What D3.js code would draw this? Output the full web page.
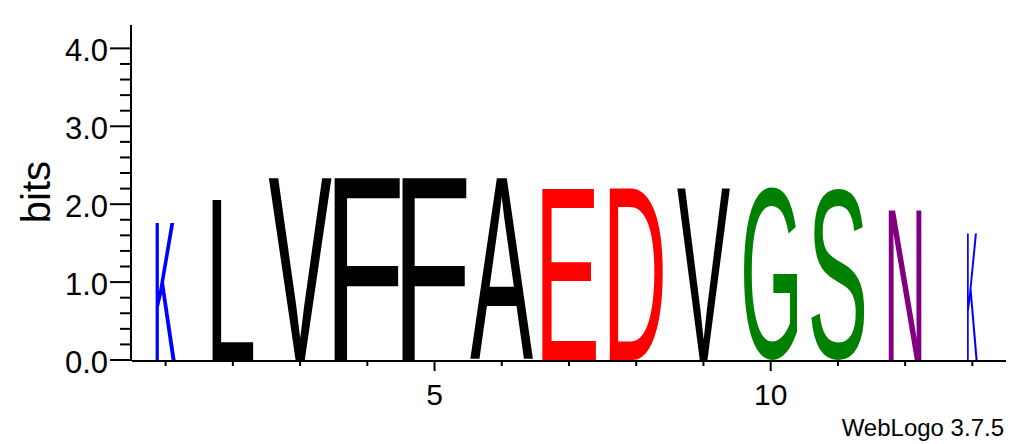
<!DOCTYPE html>
<html>
<head>
<meta charset="utf-8">
<script src="https://cdn.jsdelivr.net/npm/d3@7"></script>
<style>
  html, body { margin: 0; padding: 0; background: #ffffff; }
  svg { display: block; }
  text { font-family: "Liberation Sans", Arial, Helvetica, sans-serif; }
</style>
</head>
<body>
<svg id="chart" width="1030" height="444"></svg>
<script>
// ---- data ----
const positions = [1, 2, 3, 4, 5, 6, 7, 8, 9, 10, 11, 12, 13];
const letters   = ["K", "L", "V", "F", "F", "A", "E", "D", "V", "G", "S", "N", "K"];
const bits      = [1.76, 2.06, 2.34, 2.34, 2.34, 2.34, 2.21, 2.21, 2.21, 2.21, 2.21, 1.92, 1.62];
// fraction of the column occupied (WebLogo scales stack width by non-gap fraction)
const widthFraction = [0.30, 0.61, 0.94, 0.98, 0.96, 0.94, 0.80, 0.79, 0.79, 0.79, 0.79, 0.49, 0.16];
const yMajorTicks = [0, 1, 2, 3, 4];
const yTickLabels = ["0.0", "1.0", "2.0", "3.0", "4.0"];
const xLabeledTicks = [5, 10];
const letterColors = { K: "#0000ff", L: "#000000", V: "#000000", F: "#000000", A: "#000000",
                       E: "#ff0000", D: "#ff0000", G: "#008000", S: "#008000", N: "#800080" };

// ---- layout ----
const svg = d3.select("#chart");
const x = d3.scaleLinear().domain([0.5, 13.5]).range([132, 1006]);
const y = d3.scaleLinear().domain([0, 4.3]).range([360, 25]);
const colW = x(2) - x(1);
const FONT = "'Liberation Sans', Arial, Helvetica, sans-serif";

// measure glyph ink boxes
const canvas = document.createElement("canvas");
const ctx = canvas.getContext("2d");
const FS = 200;
ctx.font = FS + "px " + FONT;
function ink(ch) {
  const m = ctx.measureText(ch);
  return { left: -m.actualBoundingBoxLeft, right: m.actualBoundingBoxRight,
           top: -m.actualBoundingBoxAscent, bottom: m.actualBoundingBoxDescent };
}

// ---- letters ----
const data = positions.map((p, i) => ({ p, ch: letters[i], b: bits[i], f: widthFraction[i] }));
svg.append("g").selectAll("text").data(data).join("text")
  .attr("font-size", FS)
  .attr("fill", d => letterColors[d.ch])
  .attr("transform", d => {
    const bb = ink(d.ch);
    const w = colW * d.f;
    const h = y(0) - y(d.b);
    const sx = w / (bb.right - bb.left);
    const sy = h / (bb.bottom - bb.top);
    const x0 = x(d.p) - w / 2;
    const y0 = y(d.b);
    return `translate(${x0},${y0}) scale(${sx},${sy}) translate(${-bb.left},${-bb.top})`;
  })
  .text(d => d.ch);

// ---- y axis ----
const yAxisG = svg.append("g");
yAxisG.append("line").attr("x1", 131).attr("x2", 131).attr("y1", y(4.3)).attr("y2", y(0) + 1)
  .attr("stroke", "#000").attr("stroke-width", 2);
const minorY = d3.range(0, 21).map(i => i * 0.2).filter(v => Math.abs(v - Math.round(v)) > 1e-6);
yAxisG.selectAll("line.minor").data(minorY).join("line").attr("class", "minor")
  .attr("x1", 120).attr("x2", 131).attr("y1", d => y(d)).attr("y2", d => y(d))
  .attr("stroke", "#000").attr("stroke-width", 2);
yAxisG.selectAll("line.major").data(yMajorTicks).join("line").attr("class", "major")
  .attr("x1", 110).attr("x2", 131).attr("y1", d => y(d)).attr("y2", d => y(d))
  .attr("stroke", "#000").attr("stroke-width", 2);
yAxisG.selectAll("text").data(yMajorTicks).join("text")
  .attr("x", 108).attr("y", d => y(d) + 13)
  .attr("text-anchor", "end").attr("font-size", 31).attr("fill", "#000")
  .text((d, i) => yTickLabels[i]);
svg.append("text").attr("transform", "translate(50,192) rotate(-90)")
  .attr("text-anchor", "middle").attr("font-size", 40).attr("fill", "#000").text("bits");

// ---- x axis ----
const xAxisG = svg.append("g");
xAxisG.append("line").attr("x1", 132).attr("x2", 1006).attr("y1", 361).attr("y2", 361)
  .attr("stroke", "#000").attr("stroke-width", 2);
xAxisG.selectAll("line.tick").data(positions).join("line").attr("class", "tick")
  .attr("x1", d => x(d)).attr("x2", d => x(d))
  .attr("y1", 361).attr("y2", d => xLabeledTicks.includes(d) ? 371 : 366)
  .attr("stroke", "#000").attr("stroke-width", 2);
xAxisG.selectAll("text").data(xLabeledTicks).join("text")
  .attr("x", d => x(d)).attr("y", 405)
  .attr("text-anchor", "middle").attr("font-size", 30).attr("fill", "#000")
  .text(d => d);

// ---- footer ----
svg.append("text").attr("x", 1004).attr("y", 436).attr("text-anchor", "end")
  .attr("font-size", 24).attr("fill", "#000").text("WebLogo 3.7.5");
</script>
</body>
</html>
